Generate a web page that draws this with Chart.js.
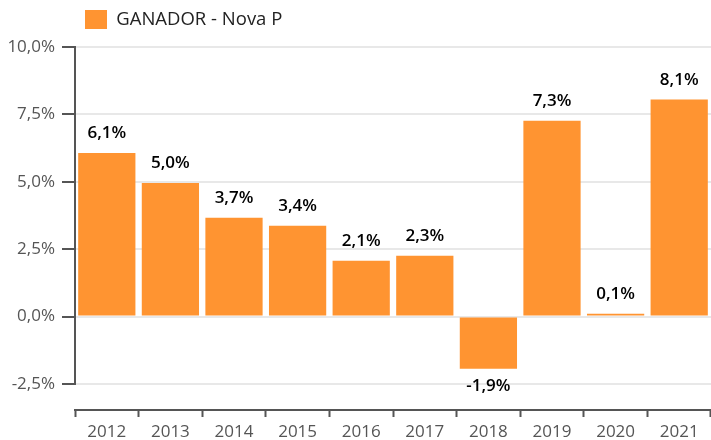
<!DOCTYPE html>
<html>
<head>
<meta charset="utf-8">
<script src="https://cdn.jsdelivr.net/npm/chart.js@4.4.0/dist/chart.umd.min.js"></script>
<style>
  html, body { margin: 0; padding: 0; background: #fff; }
  #wrap { width: 711px; height: 440px; }
</style>
</head>
<body>
<div id="wrap"><canvas id="chart"></canvas></div>
<script>
/* ===== data ===== */
const years = ["2012", "2013", "2014", "2015", "2016", "2017", "2018", "2019", "2020", "2021"];
const returns = [6.07, 4.96, 3.67, 3.37, 2.07, 2.26, -1.93, 7.26, 0.11, 8.05];
const seriesName = "GANADOR - Nova P";
const yMin = -2.5, yMax = 10, yStep = 2.5;

const fmt = v => v.toFixed(1).replace(".", ",") + "%";

/* ===== value labels over the bars ===== */
const valueLabels = {
  id: "valueLabels",
  afterDatasetsDraw(chart) {
    const ctx = chart.ctx;
    const meta = chart.getDatasetMeta(0);
    ctx.save();
    ctx.font = "600 17px 'Open Sans'";
    ctx.fillStyle = "#000";
    ctx.textAlign = "center";
    meta.data.forEach((bar, i) => {
      const v = returns[i];
      if (v >= 0) {
        ctx.textBaseline = "bottom";
        ctx.fillText(fmt(v), bar.x, bar.y - 11);
      } else {
        ctx.textBaseline = "top";
        ctx.fillText(fmt(v), bar.x, bar.y + 9);
      }
    });
    ctx.restore();
  }
};

new Chart(document.getElementById("chart"), {
  type: "bar",
  data: {
    labels: years,
    datasets: [{
      label: seriesName,
      data: returns,
      backgroundColor: "#ff9431",
      barPercentage: 0.9,
      categoryPercentage: 1.0,
      xAxisID: "x"
    }]
  },
  options: {
    responsive: true,
    maintainAspectRatio: false,
    animation: false,
    layout: { padding: 0 },
    plugins: {
      tooltip: { enabled: false },
      legend: {
        position: "top",
        align: "start",
        fullSize: false,
        labels: {
          boxWidth: 22,
          boxHeight: 19,
          color: "#222",
          font: { family: "'Open Sans'", size: 18.5 },
          padding: 10
        }
      },
      // empty title used as a spacer under the legend
      title: {
        display: true,
        text: "",
        weight: 500,
        padding: 0,
        font: { size: 8, lineHeight: 1 }
      }
    },
    scales: {
      gap: {
        type: "linear",
        position: "bottom",
        weight: 0,
        grid: { display: false },
        border: { display: false },
        ticks: { display: false },
        afterFit(s) { s.height = 26; }
      },
      x: {
        position: "bottom",
        weight: 1,
        offset: true,
        afterFit(s) { s.height = 30; },
        grid: {
          drawOnChartArea: false,
          tickLength: 7,
          tickColor: "#555",
          tickWidth: 2
        },
        border: { color: "#555", width: 2 },
        ticks: {
          color: "#555",
          padding: 5,
          font: { family: "'Open Sans'", size: 17 }
        }
      },
      y: {
        min: yMin,
        max: yMax,
        afterFit(s) { s.width = 75; },
        grid: {
          color: "#e8e8e8",
          lineWidth: 2,
          tickLength: 13,
          tickColor: "#555",
          tickWidth: 2
        },
        border: { color: "#555", width: 2 },
        ticks: {
          stepSize: yStep,
          color: "#555",
          padding: 7,
          font: { family: "'Open Sans'", size: 17 },
          callback: v => fmt(v)
        }
      }
    }
  },
  plugins: [valueLabels]
});
</script>
</body>
</html>
